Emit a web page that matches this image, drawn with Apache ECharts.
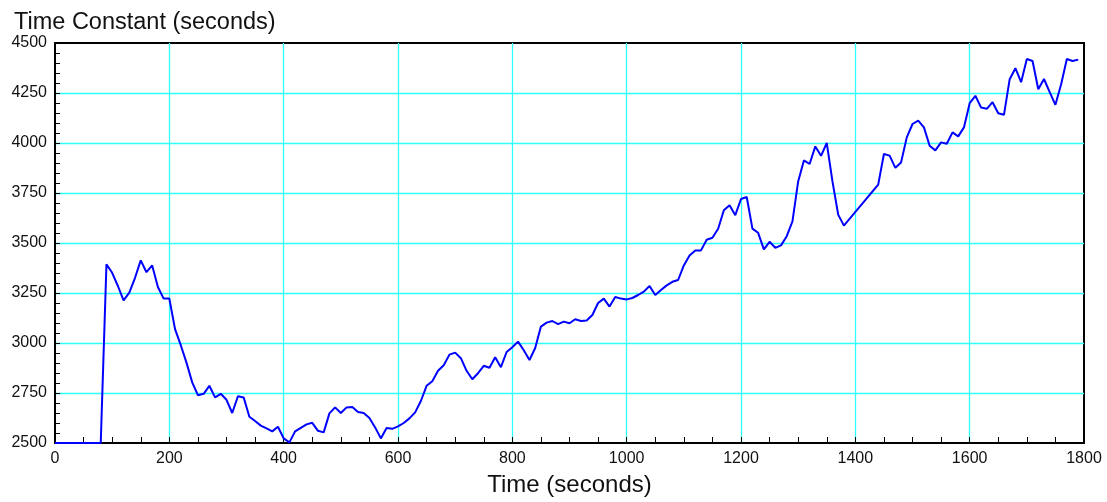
<!DOCTYPE html>
<html>
<head>
<meta charset="utf-8">
<script src="https://cdn.jsdelivr.net/npm/echarts@6/dist/echarts.min.js"></script>
<style>
html,body{margin:0;padding:0;background:#fff;}
#chart{width:1107px;height:502px;}
</style>
</head>
<body>
<div id="chart"></div>
<script>
const chartTitle = 'Time Constant (seconds)';
const xAxisName = 'Time (seconds)';
const timeSeconds = [
  0,10,20,30,40,50,60,70,80,90,100,110,120,130,140,150,160,170,180,190,
  200,210,220,230,240,250,260,270,280,290,300,310,320,330,340,350,360,370,380,390,
  400,410,420,430,440,450,460,470,480,490,500,510,520,530,540,550,560,570,580,590,
  600,610,620,630,640,650,660,670,680,690,700,710,720,730,740,750,760,770,780,790,
  800,810,820,830,840,850,860,870,880,890,900,910,920,930,940,950,960,970,980,990,
  1000,1010,1020,1030,1040,1050,1060,1070,1080,1090,1100,1110,1120,1130,1140,1150,1160,1170,1180,1190,
  1200,1210,1220,1230,1240,1250,1260,1270,1280,1290,1300,1310,1320,1330,1340,1350,1360,1370,1380,
  1440,1450,1460,1470,1480,1490,1500,1510,1520,1530,1540,1550,1560,1570,1580,1590,
  1600,1610,1620,1630,1640,1650,1660,1670,1680,1690,1700,1710,1720,1730,1740,1750,1760,1770,1780,1790
];
const timeConstant = [
  2500,2500,2500,2500,2500,2500,2500,2500,2500,3393,3351,3285,3213,3252,3326,3413,3354,3388,3280,3222,
  3222,3069,2989,2902,2803,2739,2746,2786,2728,2746,2716,2650,2734,2728,2631,2610,2587,2573,2558,2581,
  2523,2503,2558,2576,2593,2601,2561,2553,2648,2678,2650,2678,2680,2655,2650,2625,2578,2523,2575,2571,
  2583,2600,2623,2653,2710,2786,2809,2861,2889,2942,2952,2924,2861,2819,2849,2886,2876,2929,2879,2955,
  2979,3007,2964,2915,2975,3082,3102,3110,3094,3107,3099,3119,3110,3113,3140,3200,3222,3182,3230,3222,
  3218,3225,3240,3257,3285,3240,3265,3288,3306,3315,3388,3438,3463,3463,3516,3526,3571,3664,3689,3639,
  3720,3730,3572,3551,3468,3506,3476,3488,3534,3608,3808,3913,3895,3983,3936,4000,3808,3642,3587,
  3792,3945,3937,3876,3903,4028,4095,4112,4078,3986,3963,4003,3996,4053,4033,4078,
  4199,4236,4177,4171,4204,4149,4141,4319,4374,4304,4420,4410,4269,4320,4254,4191,4294,4420,4410,4417
];
const xTicks = {min: 0, max: 1800, interval: 200};
const yTicks = {min: 2500, max: 4500, interval: 250};

const points = timeSeconds.map((t, i) => [t, timeConstant[i]]);
const font = '"Liberation Sans", Arial, Helvetica, sans-serif';
const gridColor = '#30ffff';
const plainNum = v => String(v);

const chart = echarts.init(document.getElementById('chart'), null, {renderer: 'canvas'});
chart.setOption({
  animation: false,
  backgroundColor: '#fff',
  title: {
    text: chartTitle,
    left: 9, top: 6,
    textStyle: {fontFamily: font, fontSize: 23.5, fontWeight: 'normal', color: '#111'}
  },
  grid: {
    left: 55, right: 23, top: 43, bottom: 58,
    show: true, borderColor: '#000', borderWidth: 2, backgroundColor: 'transparent'
  },
  xAxis: {
    type: 'value',
    min: xTicks.min, max: xTicks.max, interval: xTicks.interval,
    name: xAxisName, nameLocation: 'middle', nameGap: 30,
    nameTextStyle: {fontFamily: font, fontSize: 24, color: '#111'},
    axisLine: {show: true, lineStyle: {color: '#000', width: 2}},
    axisTick: {show: true, inside: true, length: 6, lineStyle: {color: '#000'}},
    minorTick: {show: true, splitNumber: 4, length: 6, lineStyle: {color: '#000'}},
    axisLabel: {fontFamily: font, fontSize: 16, color: '#111', margin: 8, formatter: plainNum},
    splitLine: {show: true, showMinLine: false, showMaxLine: false, lineStyle: {color: gridColor, width: 1.3}}
  },
  yAxis: {
    type: 'value',
    min: yTicks.min, max: yTicks.max, interval: yTicks.interval,
    axisLine: {show: true, lineStyle: {color: '#000', width: 2}},
    axisTick: {show: true, inside: true, length: 5, lineStyle: {color: '#000'}},
    minorTick: {show: true, splitNumber: 5, length: 5, lineStyle: {color: '#000'}},
    axisLabel: {fontFamily: font, fontSize: 16, color: '#111', margin: 8, formatter: plainNum},
    splitLine: {show: true, showMinLine: false, showMaxLine: false, lineStyle: {color: gridColor, width: 1.3}}
  },
  series: [{
    type: 'line',
    data: points,
    showSymbol: false,
    clip: true,
    lineStyle: {color: '#0000ff', width: 2},
    itemStyle: {color: '#0000ff'}
  }]
});
</script>
</body>
</html>
